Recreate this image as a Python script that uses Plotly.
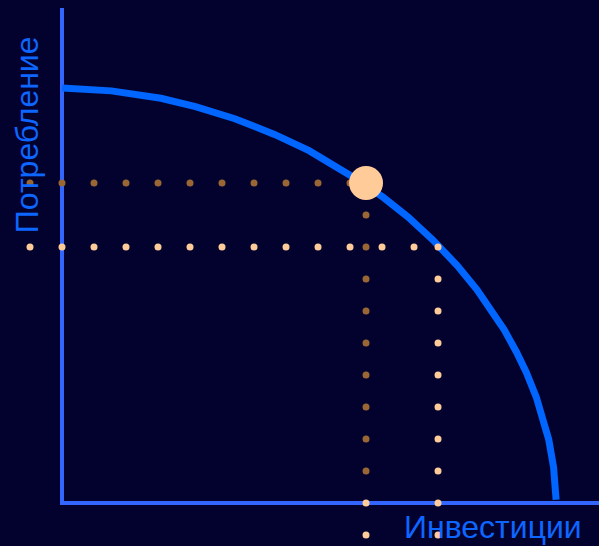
import plotly.graph_objects as go

# production possibilities frontier (1 unit = one dot step)
curve_x = [0, 1.54, 3.09, 4.17, 5.40, 6.64, 7.72, 9.26, 10.04, 10.81, 11.58,
           12.35, 12.97, 13.43, 13.82, 14.20, 14.51, 14.82, 15.05, 15.21, 15.36, 15.44]
curve_y = [12.97, 12.88, 12.65, 12.39, 12.01, 11.52, 11.01, 10.09, 9.55, 8.94, 8.23,
           7.42, 6.66, 6.02, 5.41, 4.72, 4.08, 3.31, 2.59, 1.98, 1.12, 0.1]

# axes (consumption up, investment to the right)
axis_x = [0, 0, 16.8]
axis_y = [15.47, 0, 0]

# chosen point on the frontier
point_x = [9.5]
point_y = [10]

# dotted guide lines
brown_h_x = [-2, -1, 0, 1, 2, 3, 4, 5, 6, 7, 8, 9]
brown_h_y = [10] * len(brown_h_x)
brown_v_y = [9, 8, 7, 6, 5, 4, 3, 2, 1]
brown_v_x = [9.5] * len(brown_v_y)
low_v_y = [0, -1]
low_v_x = [9.5, 9.5]
peach_h_x = [-2, -1, 0, 1, 2, 3, 4, 5, 6, 7, 8, 9, 10, 11]
peach_h_y = [8] * len(peach_h_x)
peach_v_y = [8, 7, 6, 5, 4, 3, 2, 1, 0, -1]
peach_v_x = [11.75] * len(peach_v_y)

BROWN = "#9a6634"
PEACH = "#ffcc99"

fig = go.Figure()

fig.add_trace(go.Scatter(x=axis_x, y=axis_y, mode="lines",
                         line=dict(color="#3366ff", width=4), hoverinfo="skip"))
fig.add_trace(go.Scatter(x=curve_x, y=curve_y, mode="lines",
                         line=dict(color="#0066ff", width=7), hoverinfo="skip"))

dots = dict(mode="markers", cliponaxis=False, hoverinfo="skip")
fig.add_trace(go.Scatter(x=peach_h_x, y=peach_h_y, marker=dict(color=PEACH, size=7), **dots))
fig.add_trace(go.Scatter(x=peach_v_x, y=peach_v_y, marker=dict(color=PEACH, size=7), **dots))
fig.add_trace(go.Scatter(x=brown_h_x, y=brown_h_y, marker=dict(color=BROWN, size=7), **dots))
fig.add_trace(go.Scatter(x=brown_v_x, y=brown_v_y, marker=dict(color=BROWN, size=7), **dots))
fig.add_trace(go.Scatter(x=low_v_x, y=low_v_y, marker=dict(color=PEACH, size=7), **dots))
fig.add_trace(go.Scatter(x=point_x, y=point_y, marker=dict(color=PEACH, size=34), **dots))

fig.add_annotation(x=-1.09, y=11.5, text="Потребление", textangle=-90, showarrow=False,
                   font=dict(family="Liberation Sans", size=32, color="#0d66ff"),
                   xanchor="center", yanchor="middle")
fig.add_annotation(x=13.48, y=-0.76, text="Инвестиции", showarrow=False,
                   font=dict(family="Liberation Sans", size=32, color="#0d66ff"),
                   xanchor="center", yanchor="middle")

fig.update_xaxes(range=[-1.9375, 16.78], visible=False)
fig.update_yaxes(range=[-1.34375, 15.72], visible=False)

fig.update_layout(width=599, height=546, showlegend=False,
                  margin=dict(l=0, r=0, t=0, b=0),
                  paper_bgcolor="#03022f", plot_bgcolor="#03022f")

fig.write_html("out.html", config={"displayModeBar": False},
               post_script="document.body.style.margin='0';")
